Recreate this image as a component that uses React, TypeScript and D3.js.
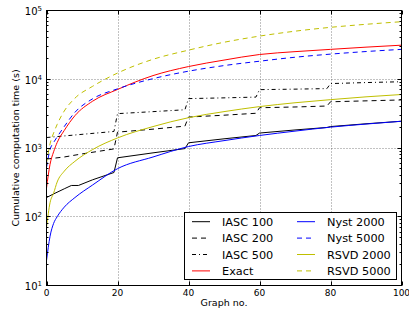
import React, { useEffect, useRef } from "react";
import * as d3 from "d3";

const smoothGraphs = [0, 1, 2, 3, 5, 8, 13, 20, 30, 40, 50, 60, 70, 80, 90, 100];
const exactTime = [260, 580, 880, 1200, 1800, 2950, 4800, 7100, 11300, 15300, 19000, 22900, 25200, 27200, 29300, 31300];
const nyst2000Time = [23, 52, 80, 100, 138, 190, 290, 500, 740, 1050, 1280, 1520, 1760, 2010, 2230, 2450];
const nyst5000Time = [520, 950, 1200, 1450, 2050, 3300, 5200, 7250, 10200, 13100, 15800, 18300, 20900, 23200, 25300, 27200];
const rsvd2000Time = [70, 160, 220, 320, 460, 640, 950, 1400, 2050, 2760, 3380, 4000, 4550, 5050, 5550, 6000];
const rsvd5000Time = [600, 1150, 1650, 2200, 3450, 5300, 7900, 12300, 19500, 26500, 34500, 42400, 50000, 56900, 63000, 68700];

// IASC curves jump every 20 graphs
const iasc100Graphs = [0, 2, 5, 7, 9, 13, 19, 20, 30, 39, 40, 50, 59, 60, 70, 79, 80, 90, 100];
const iasc100Time = [190, 215, 255, 285, 285, 345, 440, 720, 850, 980, 1190, 1360, 1520, 1650, 1830, 1990, 2050, 2250, 2450];
const iasc200Graphs = [0, 5, 10, 15, 19, 20, 30, 39, 40, 50, 59, 60, 70, 79, 80, 90, 100];
const iasc200Time = [690, 740, 820, 900, 970, 1700, 1880, 2080, 2820, 3000, 3200, 3850, 3950, 4080, 4700, 4850, 5000];
const iasc500Graphs = [0, 10, 19, 20, 30, 39, 40, 50, 59, 60, 70, 79, 80, 90, 100];
const iasc500Time = [1420, 1580, 1740, 3160, 3380, 3600, 5230, 5360, 5500, 7060, 7180, 7310, 8650, 8950, 9200];

const xTicks = [0, 20, 40, 60, 80, 100];
const yExponents = [1, 2, 3, 4, 5];

const W = 409;
const H = 310;
const left = 46.5, right = 401.5, top = 10.5, bottom = 285.5;

const series = [
  { label: "IASC 100", xs: iasc100Graphs, ys: iasc100Time, color: "#000000", dash: null, smooth: false },
  { label: "IASC 200", xs: iasc200Graphs, ys: iasc200Time, color: "#000000", dash: "5,4", smooth: false },
  { label: "IASC 500", xs: iasc500Graphs, ys: iasc500Time, color: "#000000", dash: "4,3,1,3", smooth: false },
  { label: "Exact", xs: smoothGraphs, ys: exactTime, color: "#ff0000", dash: null, smooth: true },
  { label: "Nyst 2000", xs: smoothGraphs, ys: nyst2000Time, color: "#0000ff", dash: null, smooth: true },
  { label: "Nyst 5000", xs: smoothGraphs, ys: nyst5000Time, color: "#0000ff", dash: "5,4", smooth: true },
  { label: "RSVD 2000", xs: smoothGraphs, ys: rsvd2000Time, color: "#bfbf00", dash: null, smooth: true },
  { label: "RSVD 5000", xs: smoothGraphs, ys: rsvd5000Time, color: "#bfbf00", dash: "5,4", smooth: true },
];

export default function App() {
  const ref = useRef<SVGSVGElement>(null);

  useEffect(() => {
    const svg = d3.select(ref.current);
    svg.selectAll("*").remove();
    const font = "DejaVu Sans";

    const x = d3.scaleLinear().domain([0, 100]).range([left, right]);
    const y = d3.scaleLog().domain([10, 1e5]).range([bottom, top]);

    svg.append("rect").attr("width", W).attr("height", H).attr("fill", "#fff");

    svg.append("defs").append("clipPath").attr("id", "plotclip")
      .append("rect").attr("x", left).attr("y", top)
      .attr("width", right - left).attr("height", bottom - top);

    // grid
    const grid = svg.append("g").attr("stroke", "#000").attr("stroke-width", 0.6)
      .attr("stroke-dasharray", "1,2").attr("opacity", 0.8);
    xTicks.slice(1, -1).forEach((t) => {
      grid.append("line").attr("x1", Math.round(x(t)) + 0.5).attr("x2", Math.round(x(t)) + 0.5)
        .attr("y1", top).attr("y2", bottom);
    });
    yExponents.slice(1, -1).forEach((e) => {
      const yy = Math.round(y(Math.pow(10, e)) - 0.5) + 0.5;
      grid.append("line").attr("x1", left).attr("x2", right).attr("y1", yy).attr("y2", yy);
    });

    // curves
    const lines = svg.append("g").attr("clip-path", "url(#plotclip)");
    series.forEach((s) => {
      const pts = s.xs.map((g, i) => [g, s.ys[i]] as [number, number]);
      const gen = d3.line<[number, number]>()
        .x((d) => x(d[0]))
        .y((d) => y(d[1]))
        .curve(s.smooth ? d3.curveMonotoneX : d3.curveLinear);
      lines.append("path").attr("d", gen(pts)).attr("fill", "none")
        .attr("stroke", s.color).attr("stroke-width", 1)
        .attr("stroke-dasharray", s.dash);
    });

    // ticks
    const ticks = svg.append("g").attr("stroke", "#000").attr("stroke-width", 1);
    xTicks.forEach((t) => {
      const xx = Math.round(x(t)) + 0.5;
      ticks.append("line").attr("x1", xx).attr("x2", xx).attr("y1", bottom).attr("y2", bottom - 4);
      ticks.append("line").attr("x1", xx).attr("x2", xx).attr("y1", top).attr("y2", top + 4);
    });
    yExponents.forEach((e) => {
      const yy = Math.round(y(Math.pow(10, e)) - 0.5) + 0.5;
      ticks.append("line").attr("x1", left).attr("x2", left + 4).attr("y1", yy).attr("y2", yy);
      ticks.append("line").attr("x1", right).attr("x2", right - 4).attr("y1", yy).attr("y2", yy);
      if (e < 5) {
        for (let m = 2; m < 10; m++) {
          const ym = Math.round(y(m * Math.pow(10, e)) - 0.5) + 0.5;
          ticks.append("line").attr("x1", left).attr("x2", left + 2).attr("y1", ym).attr("y2", ym);
          ticks.append("line").attr("x1", right).attr("x2", right - 2).attr("y1", ym).attr("y2", ym);
        }
      }
    });

    // frame
    svg.append("rect").attr("x", left).attr("y", top)
      .attr("width", right - left).attr("height", bottom - top)
      .attr("fill", "none").attr("stroke", "#000").attr("stroke-width", 1);

    // tick labels
    xTicks.forEach((t) => {
      svg.append("text").attr("x", x(t)).attr("y", 296)
        .attr("text-anchor", "middle").attr("font-family", font).attr("font-size", 9)
        .attr("fill", "#000").text(t);
    });
    yExponents.forEach((e) => {
      const yy = y(Math.pow(10, e));
      const tx = svg.append("text").attr("x", 42).attr("y", yy + 4.3)
        .attr("text-anchor", "end").attr("font-family", font).attr("fill", "#000");
      tx.append("tspan").attr("font-size", 10).text("10");
      tx.append("tspan").attr("font-size", 7).attr("dy", -3.8).text(e);
    });

    // axis titles
    svg.append("text").attr("x", 224).attr("y", 306).attr("text-anchor", "middle")
      .attr("font-family", font).attr("font-size", 9.5).attr("fill", "#000").text("Graph no.");
    svg.append("text").attr("transform", "translate(19,148) rotate(-90)")
      .attr("text-anchor", "middle").attr("font-family", font).attr("font-size", 9.5)
      .attr("fill", "#000").text("Cumulative computation time (s)");

    // legend
    const lg = svg.append("g");
    lg.append("rect").attr("x", 184.5).attr("y", 212.5).attr("width", 212).attr("height", 67)
      .attr("fill", "#fff").attr("stroke", "#000").attr("stroke-width", 1);
    series.forEach((s, i) => {
      const col = Math.floor(i / 4);
      const row = i % 4;
      const cy = 221.7 + row * 16.4;
      const sx = col === 0 ? 192 : 297;
      lg.append("line").attr("x1", sx).attr("x2", sx + 18).attr("y1", cy).attr("y2", cy)
        .attr("stroke", s.color).attr("stroke-width", 1).attr("stroke-dasharray", s.dash);
      lg.append("text").attr("x", col === 0 ? 222 : 327).attr("y", cy + 4.1)
        .attr("font-family", font).attr("font-size", 11.3).attr("fill", "#000").text(s.label);
    });
  }, []);

  return (
    <svg ref={ref} width={W} height={H}
      style={{ position: "absolute", left: 0, top: 0, display: "block" }} />
  );
}
